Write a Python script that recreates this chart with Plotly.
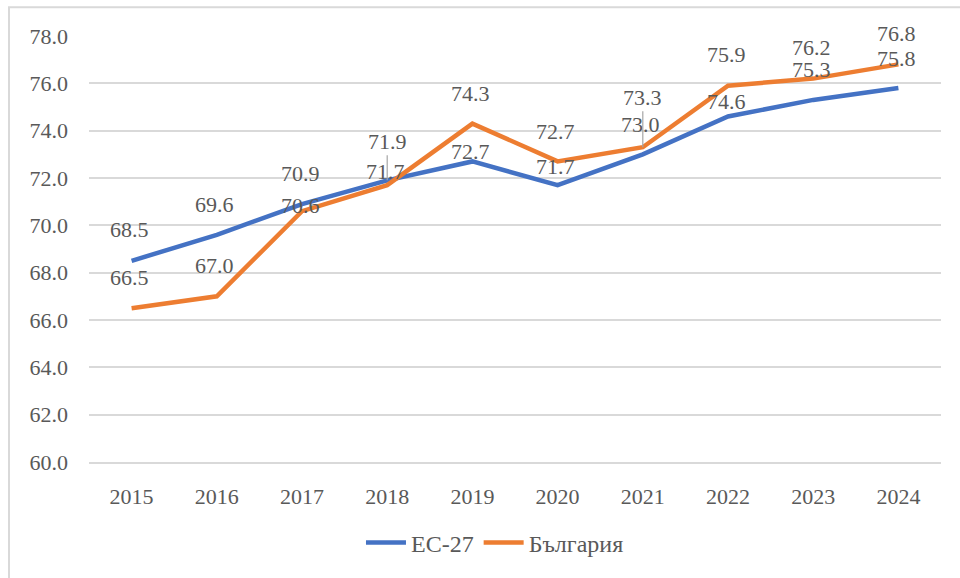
import plotly.graph_objects as go

years = ["2015", "2016", "2017", "2018", "2019", "2020", "2021", "2022", "2023", "2024"]
eu27 = [68.5, 69.6, 70.9, 71.9, 72.7, 71.7, 73.0, 74.6, 75.3, 75.8]
bulgaria = [66.5, 67.0, 70.6, 71.7, 74.3, 72.7, 73.3, 75.9, 76.2, 76.8]
series_names = ["ЕС-27", "България"]
y_ticks = [60, 62, 64, 66, 68, 70, 72, 74, 76, 78]

# label placement (pixels above the point) and leader-line flags
eu_shift = [31, 30, 31, 39, 10, 19, 30, 15, 30, 30]
bg_shift = [31, 31, 6, 14, 30, 30, 50, 31, 31, 31]
eu_leader = [False, False, False, True, False, False, False, False, False, False]
bg_leader = [False, False, False, False, False, False, True, False, False, False]

BLUE = "#4472C4"
ORANGE = "#ED7D31"
TXT = "#595959"
GRID = "#D9D9D9"
FONT = "Liberation Serif, Times New Roman, serif"

fig = go.Figure()
fig.add_trace(go.Scatter(x=years, y=eu27, mode="lines", name=series_names[0],
                         line=dict(color=BLUE, width=4.5)))
fig.add_trace(go.Scatter(x=years, y=bulgaria, mode="lines", name=series_names[1],
                         line=dict(color=ORANGE, width=4.5)))

annotations = []
for vals, shifts, leaders in [(eu27, eu_shift, eu_leader), (bulgaria, bg_shift, bg_leader)]:
    for i, (v, s, ld) in enumerate(zip(vals, shifts, leaders)):
        if ld:
            annotations.append(dict(x=i, y=v, xref="x", yref="y", text=f"{v:.1f}",
                                    showarrow=True, arrowhead=0, arrowwidth=1.2,
                                    arrowcolor="#A6A6A6", ax=0, ay=-s, standoff=0,
                                    font=dict(family=FONT, size=22, color=TXT)))
        else:
            annotations.append(dict(x=i, y=v, xref="x", yref="y", text=f"{v:.1f}",
                                    showarrow=False, yshift=s, xshift=-2,
                                    font=dict(family=FONT, size=22, color=TXT)))

fig.update_layout(
    width=960, height=578,
    margin=dict(l=89, r=19, t=36, b=112),
    paper_bgcolor="white", plot_bgcolor="white",
    font=dict(family=FONT, size=22, color=TXT),
    xaxis=dict(type="category", range=[-0.5, 9.5], showgrid=False,
               showline=True, linecolor=GRID, linewidth=1.5,
               ticks="", ticklabelstandoff=14,
               tickfont=dict(family=FONT, size=22, color=TXT)),
    yaxis=dict(range=[60, 78], tickvals=y_ticks, tickformat=".1f",
               showgrid=True, gridcolor=GRID, gridwidth=1.5,
               zeroline=False, showline=False, ticks="",
               ticklabelstandoff=20,
               tickfont=dict(family=FONT, size=22, color=TXT)),
    legend=dict(orientation="h", x=0.4765, xanchor="center", y=-0.19, yanchor="middle",
                font=dict(family=FONT, size=24, color=TXT), itemwidth=40),
    annotations=annotations,
    shapes=[dict(type="rect", xref="paper", yref="paper",
                 x0=(9 - 89) / 852, x1=(975 - 89) / 852,
                 y0=(466 - 590) / 430, y1=(466 - 7) / 430,
                 line=dict(color=GRID, width=2), layer="below")],
    showlegend=True,
)

fig.write_html("out.html", config={"displayModeBar": False},
               post_script="document.body.style.margin='0';document.body.style.overflow='hidden';")
